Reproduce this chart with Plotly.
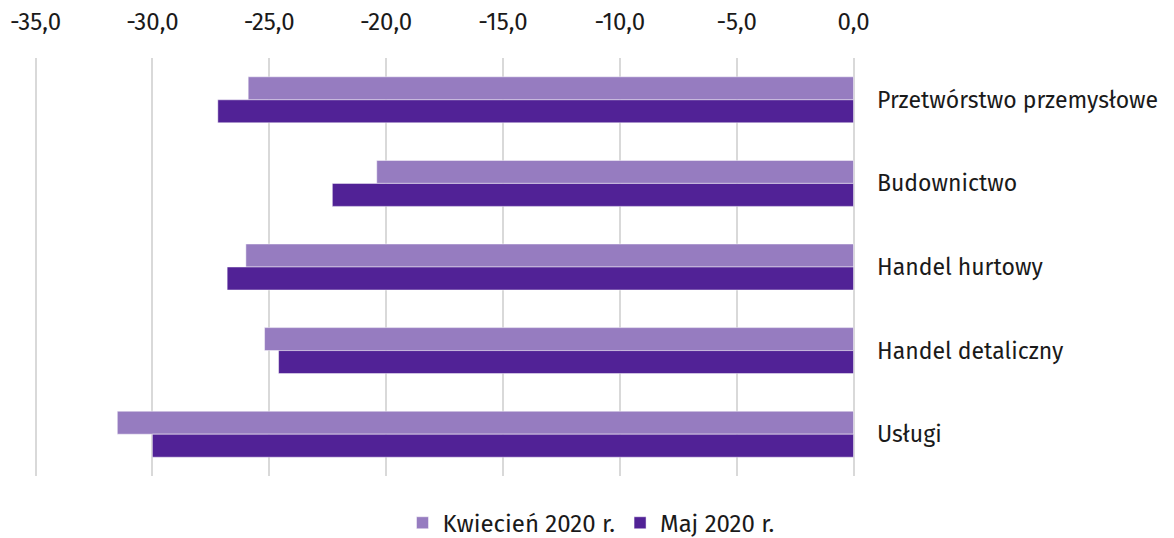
import plotly.graph_objects as go

CATEGORIES = ["Przetwórstwo przemysłowe", "Budownictwo", "Handel hurtowy",
              "Handel detaliczny", "Usługi"]
KWIECIEN = [-25.9, -20.4, -26.0, -25.2, -31.5]
MAJ = [-27.2, -22.3, -26.8, -24.6, -30.0]
SERIES_NAMES = ["Kwiecień 2020 r.", "Maj 2020 r."]
X_TICKS = [-35, -30, -25, -20, -15, -10, -5, 0]
X_TICK_TEXT = ["-35,0", "-30,0", "-25,0", "-20,0", "-15,0", "-10,0", "-5,0", "0,0"]

FONT = "Fira Sans, Open Sans, Noto Sans, sans-serif"

fig = go.Figure()
fig.add_trace(go.Bar(
    y=CATEGORIES, x=KWIECIEN, orientation="h", name=SERIES_NAMES[0],
    marker=dict(color="#967CC0", line=dict(color="rgba(255,255,255,0.6)", width=0.8)),
))
fig.add_trace(go.Bar(
    y=CATEGORIES, x=MAJ, orientation="h", name=SERIES_NAMES[1],
    marker=dict(color="#512296", line=dict(color="rgba(255,255,255,0.6)", width=0.8)),
))

# page body has an 8px margin, so the figure is a bit smaller than the window
fig.update_layout(
    width=1166, height=530,
    margin=dict(l=24, r=320, t=50, b=62),
    paper_bgcolor="white", plot_bgcolor="white",
    barmode="group", bargap=0.45, bargroupgap=0,
    font=dict(family=FONT, size=24, color="#1a1a1a"),
    showlegend=True,
    legend=dict(orientation="h", xref="container", x=0.5, xanchor="center",
                yref="container", y=0.028, yanchor="middle",
                font=dict(size=24), itemwidth=30, traceorder="normal"),
    xaxis=dict(
        side="top", range=[-35.15, 0.02], tickmode="array",
        tickvals=X_TICKS, ticktext=X_TICK_TEXT, automargin=False,
        showgrid=True, gridcolor="#d9d9d9", gridwidth=1.5,
        zeroline=True, zerolinecolor="#d9d9d9", zerolinewidth=1.5,
        showline=False, ticks="", ticklabelstandoff=22,
    ),
    yaxis=dict(
        side="right", autorange="reversed", showgrid=False, automargin=False,
        zeroline=False, showline=False, ticks="", ticklabelstandoff=22,
        tickfont=dict(size=23),
    ),
)

fig.write_html("out.html")
